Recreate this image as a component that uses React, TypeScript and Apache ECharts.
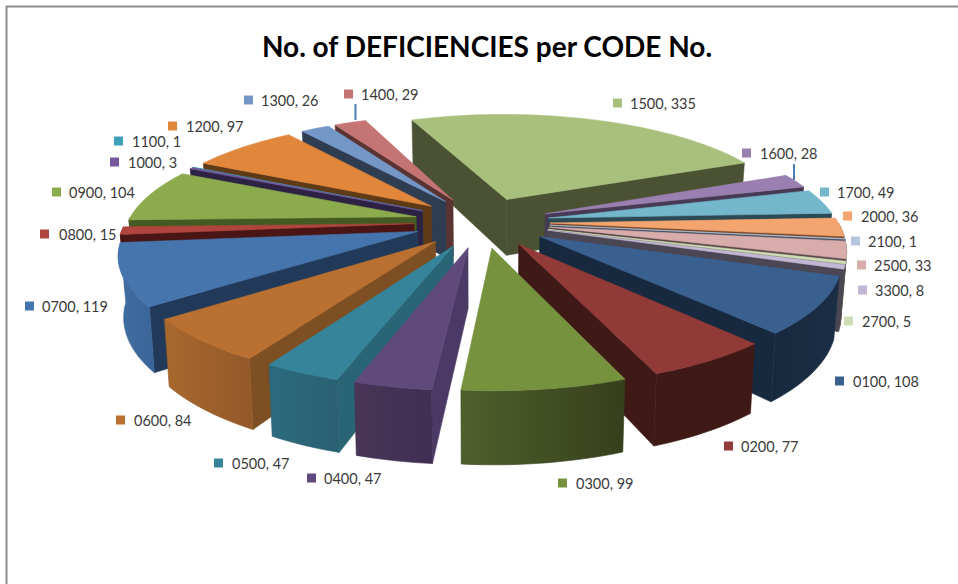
import React, { useEffect, useRef } from "react";
import * as echarts from "echarts";

const TITLE = "No. of DEFICIENCIES per CODE No.";
const codes = ["0100","0200","0300","0400","0500","0600","0700","0800","0900","1000","1100","1200","1300","1400","1500","1600","1700","2000","2100","2500","2700","3300"];
const counts = [108,77,99,47,47,84,119,15,104,3,1,97,26,29,335,28,49,36,1,33,5,8];

const topColors = ["#3a6090","#913a38","#76923f","#604a7b","#36849a","#ba7031","#4675ae","#b0453f","#8cab4d","#77599c","#3fa0b8","#e0873c","#7597c8","#c47573","#a8c07c","#9980b0","#74b6ca","#f4a46e","#b6c5e0","#d8acab","#cfdeb5","#c2b7d5"];
const sideColors = ["#17293e","#3e1916","#363f1c","#4c3a66","#2a6576","#7d4f22","#223a5a","#4a1615","#455a22","#2e2244","#1c4a56","#5f3a17","#2e3d52","#5a3433","#4a5233","#463a54","#2c4a54","#7a4a28","#4b5260","#5c4a4a","#5a6248","#4b4653"];
const rimLeft = ["#17293e","#3e1916","#4f602c","#483558","#2c6b7e","#a8682d","#416da2","#4a1615","#455a22","#2e2244","#1c4a56","#5f3a17","#2e3d52","#5a3433","#4a5233","#463a54","#2c4a54","#7a4a28","#4b5260","#5c4a4a","#5a6248","#4b4653"];
const rimRight = ["#1a2e45","#3e1916","#363f1c","#3f2f52","#2a6071","#93592a","#3a6598","#4a1615","#455a22","#2e2244","#1c4a56","#5f3a17","#2e3d52","#5a3433","#4a5233","#463a54","#2c4a54","#7a4a28","#4b5260","#5c4a4a","#5a6248","#4b4653"];

// left edge of each legend key, its vertical centre, and left edge of the text
const labelSpots: Record<string, number[]> = {
  "0100":[835,381,853],"0200":[724,446,741],"0300":[558,483,576],"0400":[307,478,324],"0500":[214,463,232],
  "0600":[116,420,134],"0700":[25,306,42],"0800":[40,234,59],"0900":[52,192,69],"1000":[110,162,128],
  "1100":[114,141,132],"1200":[168,126,186],"1300":[244,100,261],"1400":[344,94,361],"1500":[613,103,630],
  "1600":[742,153,760],"1700":[820,192,837],"2000":[843,216,861],"2100":[851,241,868],"2500":[857,265,874],
  "3300":[858,290,875],"2700":[844,321,862],
};

// pie geometry: first-slice angle, radius, explosion, height, tilt, perspective
const START_DEG = 109.5, RADIUS = 288, EXPLODE = 68, HEIGHT = 58, TILT = 0.372, PERSP = 0.00061;
const CX = 482, CY = 222;

const total = counts.reduce((a, b) => a + b, 0);
const startDeg: number[] = [];
counts.reduce((acc, v, i) => { startDeg[i] = START_DEG + (acc / total) * 360; return acc + v; }, 0);
const rad = (d: number) => (d * Math.PI) / 180;

function project(X: number, Z: number, bottom: boolean): number[] {
  const s = 1 / (1 + PERSP * Z);
  const x = CX + X * s * (bottom ? 0.985 : 1);
  const y = CY - TILT * Z * s + (bottom ? HEIGHT * s : 0);
  return [x, y];
}

function buildSlice(i: number, value: number) {
  const a0 = startDeg[i];
  const a1 = a0 + (value / total) * 360;
  const mid = rad((a0 + a1) / 2);
  const ax = EXPLODE * Math.sin(mid), az = EXPLODE * Math.cos(mid);
  const outer = (deg: number) => [ax + RADIUS * Math.sin(rad(deg)), az + RADIUS * Math.cos(rad(deg))];
  const arcAngles: number[] = [];
  const steps = Math.max(1, Math.ceil((a1 - a0) / 1.5));
  for (let k = 0; k <= steps; k++) arcAngles.push(a0 + ((a1 - a0) * k) / steps);

  const children: any[] = [];
  const poly = (points: number[][], fill: any, stroke: string) => ({
    type: "polygon", shape: { points }, style: { fill, stroke, lineWidth: 0.6 }, silent: true,
  });
  const wall = (deg: number) => {
    const [ox, oz] = outer(deg);
    return poly([project(ax, az, false), project(ox, oz, false), project(ox, oz, true), project(ax, az, true)], sideColors[i], sideColors[i]);
  };
  if (Math.sin(rad(a0)) < 0) children.push(wall(a0));
  if (Math.sin(rad(a1)) > 0) children.push(wall(a1));

  const frontAngles = arcAngles.filter((d) => Math.cos(rad(d)) < 0);
  if (frontAngles.length > 1) {
    const upper = frontAngles.map((d) => { const [x, z] = outer(d); return project(x, z, false); });
    const lower = frontAngles.map((d) => { const [x, z] = outer(d); return project(x, z, true); }).reverse();
    children.push(poly(upper.concat(lower), new echarts.graphic.LinearGradient(0, 0, 1, 0, [
      { offset: 0, color: rimLeft[i] },
      { offset: 1, color: rimRight[i] },
    ]), rimRight[i]));
  }

  const top = [project(ax, az, false)].concat(arcAngles.map((d) => { const [x, z] = outer(d); return project(x, z, false); }));
  children.push(poly(top, topColors[i], topColors[i]));
  return { type: "group", children };
}

// back slices first, so the front ones cover them
const drawOrder = codes
  .map((_, i) => i)
  .sort((p, q) => {
    const m = (i: number) => Math.cos(rad(startDeg[i] + (counts[i] / total) * 180));
    return m(q) - m(p);
  });

export default function App() {
  const ref = useRef<HTMLDivElement>(null);
  useEffect(() => {
    const chart = echarts.init(ref.current!, undefined, { renderer: "svg" });
    const labelFont = { fontFamily: "Lato", fontSize: 14.5, fill: "#3a3a3a" };
    const graphics: any[] = [
      { type: "line", shape: { x1: 6.5, y1: 6, x2: 6.5, y2: 584 }, style: { stroke: "#8c8c8c", lineWidth: 2 } },
      { type: "line", shape: { x1: 6, y1: 6.5, x2: 958, y2: 6.5 }, style: { stroke: "#8c8c8c", lineWidth: 2 } },
      { type: "line", shape: { x1: 355.5, y1: 104, x2: 355.5, y2: 120 }, style: { stroke: "#4a7ebb", lineWidth: 2 } },
      { type: "line", shape: { x1: 794, y1: 164, x2: 794, y2: 180 }, style: { stroke: "#4a7ebb", lineWidth: 2 } },
    ];
    codes.forEach((code, i) => {
      const [mx, my, tx] = labelSpots[code];
      graphics.push({ type: "rect", shape: { x: mx, y: my - 4.5, width: 9, height: 9 }, style: { fill: topColors[i] } });
      graphics.push({
        type: "text", x: tx, y: my,
        style: { ...labelFont, text: `${code}, ${counts[i]}`, textVerticalAlign: "middle", verticalAlign: "middle" },
      });
    });
    chart.setOption({
      animation: false,
      backgroundColor: "#ffffff",
      title: {
        text: TITLE, left: 482, top: 27, textAlign: "center",
        textStyle: { fontFamily: "Lato", fontWeight: "bold", fontSize: 28, color: "#000000" },
      },
      graphic: graphics,
      series: [{
        type: "custom",
        coordinateSystem: "none",
        silent: true,
        data: drawOrder.map((i) => ({ name: codes[i], value: [counts[i], i] })),
        renderItem: (_p: any, api: any) => buildSlice(api.value(1), api.value(0)),
      }],
    });
    return () => chart.dispose();
  }, []);
  return <div ref={ref} style={{ position: "fixed", left: 0, top: 0, width: 958, height: 584 }} />;
}
